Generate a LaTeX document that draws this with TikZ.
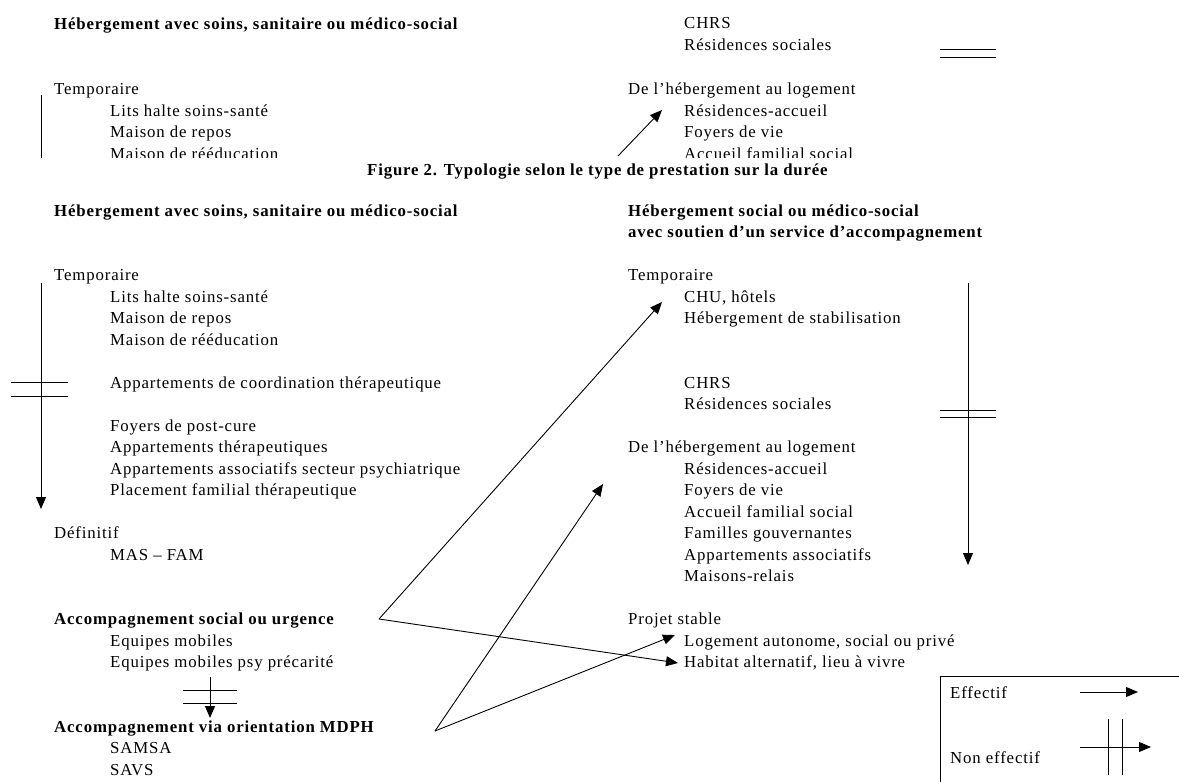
\documentclass[tikz,border=0pt]{standalone}
\usepackage{fontspec}
\setmainfont{Liberation Serif}[LetterSpace=5]
\usetikzlibrary{arrows.meta}
\begin{document}
\begin{tikzpicture}[x=1pt,y=-1pt,
  txt/.style={anchor=base west,inner sep=0pt,font=\fontsize{16.8}{20}\selectfont},
  bft/.style={anchor=base west,inner sep=0pt,font=\fontsize{16.8}{20}\selectfont\bfseries},
  ln/.style={line width=0.9pt},
  eff/.style={ln,-{Triangle[length=12pt,width=10pt]}}]
\useasboundingbox (0,0) rectangle (1179,782);
% ---------- top fragment (clipped) ----------
\begin{scope}
\clip (0,0) rectangle (1179,157.5);
\node[bft] (th1) at (54,29) {Hébergement avec soins, sanitaire ou médico-social};
\node[txt] (ttemp) at (54,94) {Temporaire};
\node[txt] (tlits) at (110,116) {Lits halte soins-santé};
\node[txt] (trepos) at (110,137.5) {Maison de repos};
\node[txt] (treed) at (110,159) {Maison de rééducation};
\node[txt] (tchrs) at (684,28) {CHRS};
\node[txt] (tres) at (684,50) {Résidences sociales};
\node[txt] (tdelh) at (628,94) {De l’hébergement au logement};
\node[txt] (tresacc) at (684,116) {Résidences-accueil};
\node[txt] (tfoy) at (684,137.5) {Foyers de vie};
\node[txt] (tacc) at (684,159) {Accueil familial social};
\coordinate (tv1) at (41,95);
\coordinate (tv2) at (41,160);
\draw[ln] (tv1) -- (tv2);
\coordinate (ta1) at (618,156);
\coordinate (ta2) at (662,110);
\draw[eff] (ta1) -- (ta2);
\end{scope}
\coordinate (td1a) at (940,49);
\coordinate (td1b) at (996,49);
\coordinate (td2a) at (940,57);
\coordinate (td2b) at (996,57);
\draw[ln] (td1a) -- (td1b);
\draw[ln] (td2a) -- (td2b);
% caption
\node[bft] (cap) at (367,175) {Figure 2. Typologie selon le type de prestation sur la durée};
% ---------- main figure ----------
\node[bft] (h1) at (54,216) {Hébergement avec soins, sanitaire ou médico-social};
\node[bft] (h2) at (628,216) {Hébergement social ou médico-social};
\node[bft] (h3) at (628,237.5) {avec soutien d’un service d’accompagnement};
% left column
\node[txt] (ltemp) at (54,280.5) {Temporaire};
\node[txt] (llits) at (110,302) {Lits halte soins-santé};
\node[txt] (lrepos) at (110,323.5) {Maison de repos};
\node[txt] (lreed) at (110,345) {Maison de rééducation};
\node[txt] (lact) at (110,388) {Appartements de coordination thérapeutique};
\node[txt] (lpost) at (110,431) {Foyers de post-cure};
\node[txt] (lappt) at (110,452.5) {Appartements thérapeutiques};
\node[txt] (lassoc) at (110,474) {Appartements associatifs secteur psychiatrique};
\node[txt] (lplac) at (110,495.5) {Placement familial thérapeutique};
\node[txt] (ldef) at (54,538.5) {Définitif};
\node[txt] (lmas) at (110,560) {MAS – FAM};
\node[bft] (lsoc) at (54,624.5) {Accompagnement social ou urgence};
\node[txt] (leq) at (110,646) {Equipes mobiles};
\node[txt] (leqp) at (110,667.5) {Equipes mobiles psy précarité};
\node[bft] (lmdph) at (54,732) {Accompagnement via orientation MDPH};
\node[txt] (lsamsa) at (110,753.5) {SAMSA};
\node[txt] (lsavs) at (110,775) {SAVS};
% right column
\node[txt] (rtemp) at (628,280.5) {Temporaire};
\node[txt] (rchu) at (684,302) {CHU, hôtels};
\node[txt] (rstab) at (684,323.5) {Hébergement de stabilisation};
\node[txt] (rchrs) at (684,388) {CHRS};
\node[txt] (rres) at (684,409.5) {Résidences sociales};
\node[txt] (rdelh) at (628,452.5) {De l’hébergement au logement};
\node[txt] (rresacc) at (684,474) {Résidences-accueil};
\node[txt] (rfoy) at (684,495.5) {Foyers de vie};
\node[txt] (racc) at (684,517) {Accueil familial social};
\node[txt] (rfam) at (684,538.5) {Familles gouvernantes};
\node[txt] (rappa) at (684,560) {Appartements associatifs};
\node[txt] (rmais) at (684,581.5) {Maisons-relais};
\node[txt] (rproj) at (628,624.5) {Projet stable};
\node[txt] (rlog) at (684,646) {Logement autonome, social ou privé};
\node[txt] (rhab) at (684,667.5) {Habitat alternatif, lieu à vivre};
% left vertical arrow (non effectif)
\coordinate (la1) at (41,283);
\coordinate (la2) at (41,509);
\draw[eff] (la1) -- (la2);
\coordinate (lx1a) at (11,382);
\coordinate (lx1b) at (68,382);
\coordinate (lx2a) at (11,396);
\coordinate (lx2b) at (68,396);
\draw[ln] (lx1a) -- (lx1b);
\draw[ln] (lx2a) -- (lx2b);
% right vertical arrow
\coordinate (ra1) at (968,283);
\coordinate (ra2) at (968,565);
\draw[eff] (ra1) -- (ra2);
\coordinate (rx1a) at (940,410);
\coordinate (rx1b) at (996,410);
\coordinate (rx2a) at (940,417);
\coordinate (rx2b) at (996,417);
\draw[ln] (rx1a) -- (rx1b);
\draw[ln] (rx2a) -- (rx2b);
% small arrow
\coordinate (sa1) at (210,677);
\coordinate (sa2) at (210,718);
\draw[eff] (sa1) -- (sa2);
\coordinate (sx1a) at (183,690);
\coordinate (sx1b) at (237,690);
\coordinate (sx2a) at (183,703);
\coordinate (sx2b) at (237,703);
\draw[ln] (sx1a) -- (sx1b);
\draw[ln] (sx2a) -- (sx2b);
% crossing arrows
\coordinate (v1) at (379,619);
\coordinate (v2) at (435,731);
\coordinate (tchu) at (662,302);
\coordinate (thab) at (678,663);
\coordinate (tfoy) at (603,484);
\coordinate (tlog) at (675,635);
\draw[eff] (v1) -- (tchu);
\draw[eff] (v1) -- (thab);
\draw[eff] (v2) -- (tfoy);
\draw[eff] (v2) -- (tlog);
% legend
\coordinate (bx1) at (940,782);
\coordinate (bx2) at (940,676);
\coordinate (bx3) at (1179,676);
\draw[ln] (bx1) -- (bx2) -- (bx3);
\node[txt] (geff) at (950,698) {Effectif};
\node[txt] (gneff) at (950,763) {Non effectif};
\coordinate (ge1) at (1080,692);
\coordinate (ge2) at (1138,692);
\draw[eff] (ge1) -- (ge2);
\coordinate (gn1) at (1080,747);
\coordinate (gn2) at (1151,747);
\draw[eff] (gn1) -- (gn2);
\coordinate (gv1a) at (1108,719);
\coordinate (gv1b) at (1108,775);
\coordinate (gv2a) at (1122,719);
\coordinate (gv2b) at (1122,775);
\draw[ln] (gv1a) -- (gv1b);
\draw[ln] (gv2a) -- (gv2b);
\end{tikzpicture}
\end{document}
